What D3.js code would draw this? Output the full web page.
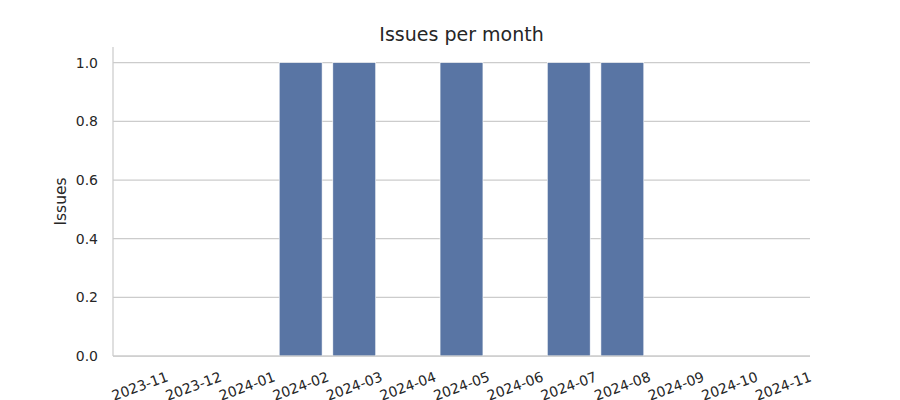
<!DOCTYPE html>
<html>
<head>
<meta charset="utf-8">
<script src="https://cdn.jsdelivr.net/npm/d3@7"></script>
<style>
  html, body { margin: 0; padding: 0; background: #fff; }
  svg { display: block; font-family: "DejaVu Sans", sans-serif; }
</style>
</head>
<body>
<svg id="chart" width="900" height="400"></svg>
<script>
const months = ["2023-11","2023-12","2024-01","2024-02","2024-03","2024-04","2024-05","2024-06","2024-07","2024-08","2024-09","2024-10","2024-11"];
const issues = [0,0,0,1,1,0,1,0,1,1,0,0,0];
const yTicks = [0.0,0.2,0.4,0.6,0.8,1.0];
const title = "Issues per month";
const yLabel = "Issues";

(function () {
const svg = d3.select("#chart");
const pLeft = 113, pRight = 810, pTop = 47, pBottom = 356;
const textColor = "#262626";
const gridColor = "#cccccc";

const x = d3.scaleBand().domain(months).range([pLeft, pRight]).paddingInner(0.2).paddingOuter(0.1);
const y = d3.scaleLinear().domain([0, 1.05]).range([pBottom, pTop + 1]);

// grid
svg.append("g").selectAll("line").data(yTicks).join("line")
  .attr("x1", pLeft).attr("x2", pRight)
  .attr("y1", d => y(d)).attr("y2", d => y(d))
  .attr("stroke", gridColor).attr("stroke-width", 1.25);

// bars
svg.append("g").selectAll("rect").data(months.map((m, i) => ({m, v: issues[i]}))).join("rect")
  .attr("x", d => x(d.m))
  .attr("width", x.bandwidth())
  .attr("y", d => y(d.v))
  .attr("height", d => y(0) - y(d.v))
  .attr("fill", "#5975a4")
  .attr("stroke", "#ffffff").attr("stroke-width", 0.6);

// spines
svg.append("line").attr("x1", pLeft).attr("x2", pLeft).attr("y1", pTop).attr("y2", pBottom)
  .attr("stroke", gridColor).attr("stroke-width", 1.25);
svg.append("line").attr("x1", pLeft).attr("x2", pRight).attr("y1", pBottom).attr("y2", pBottom)
  .attr("stroke", gridColor).attr("stroke-width", 1.25);

// y axis tick labels
const yAxis = d3.axisLeft(y).tickValues(yTicks).tickFormat(d3.format(".1f")).tickSize(0).tickPadding(15);
const gy = svg.append("g").attr("transform", `translate(${pLeft},0)`).call(yAxis);
gy.select(".domain").remove();
gy.selectAll("text").attr("font-size", 14).attr("fill", textColor).attr("font-family", "DejaVu Sans");

// x axis tick labels (rotated, centered)
const xAxis = d3.axisBottom(x).tickSize(0).tickPadding(0);
const gx = svg.append("g").attr("transform", `translate(0,${pBottom})`).call(xAxis);
gx.select(".domain").remove();
gx.selectAll("text")
  .attr("font-size", 14).attr("fill", textColor).attr("font-family", "DejaVu Sans")
  .attr("text-anchor", "middle")
  .attr("dominant-baseline", "central")
  .attr("dy", null)
  .attr("y", 30)
  .attr("transform", "rotate(-20,0,30)");

// title
svg.append("text").attr("x", (pLeft + pRight) / 2).attr("y", 41)
  .attr("text-anchor", "middle").attr("font-size", 19).attr("fill", textColor)
  .text(title);

// y label
svg.append("text").attr("transform", `translate(66,${(pTop + pBottom) / 2}) rotate(-90)`)
  .attr("text-anchor", "middle").attr("font-size", 15.5).attr("fill", textColor)
  .text(yLabel);
})();
</script>
</body>
</html>
